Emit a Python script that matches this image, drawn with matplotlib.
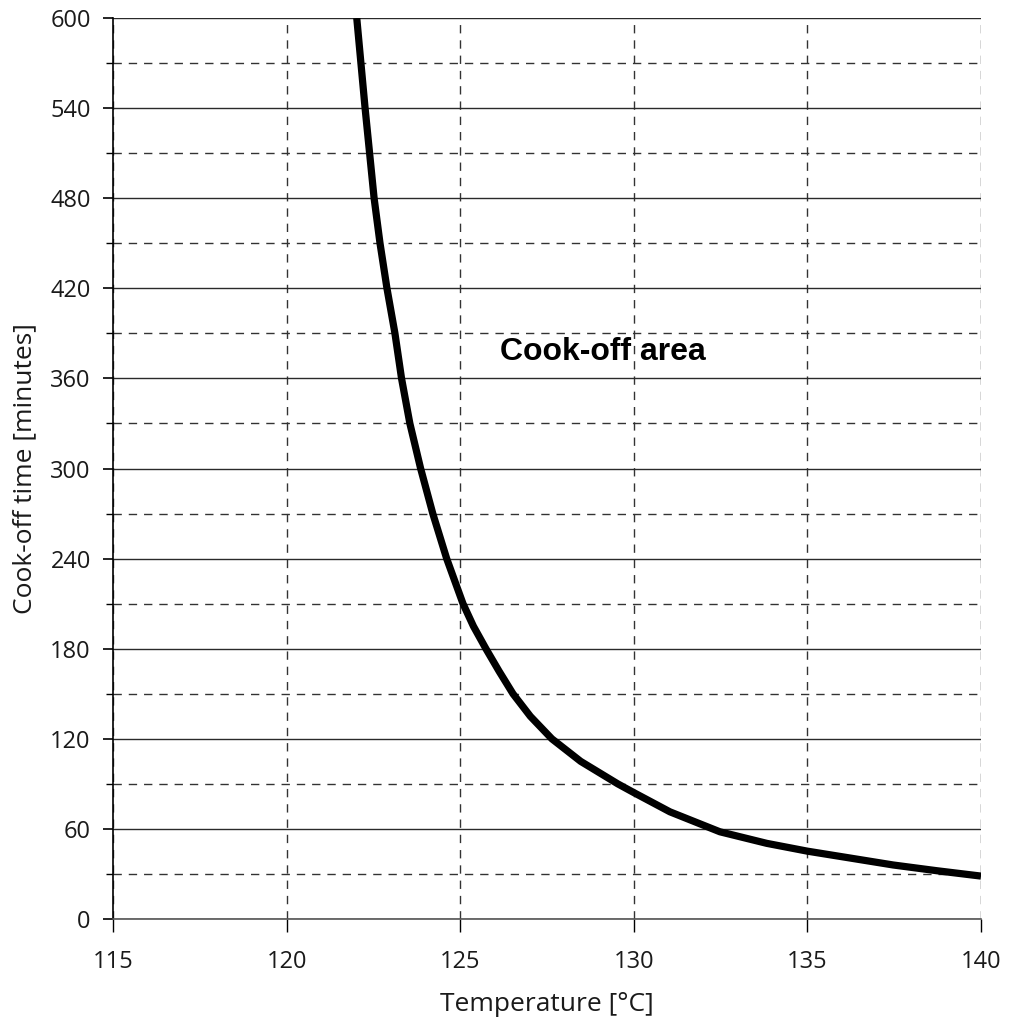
import matplotlib
matplotlib.use("Agg")
import matplotlib.pyplot as plt
from matplotlib.ticker import MultipleLocator

# Data
temperature = [122.02, 122.14, 122.26, 122.39, 122.52, 122.69, 122.89, 123.12, 123.31,
               123.55, 123.86, 124.21, 124.61, 125.08, 125.38, 125.74, 126.12, 126.52,
               127.02, 127.64, 128.47, 129.54, 130.00, 131.04, 132.48, 133.83, 135.0,
               136.13, 137.47, 138.72, 140.0]
cook_off_time = [600, 570, 540, 510, 480, 450, 420, 390, 360,
                 330, 300, 270, 240, 210, 195, 180, 165, 150,
                 135, 120, 105, 90, 84.2, 71.4, 58.1, 50.4, 45.2,
                 41.0, 36.0, 32.2, 28.6]
x_ticks = [115, 120, 125, 130, 135, 140]
y_ticks = [0, 60, 120, 180, 240, 300, 360, 420, 480, 540, 600]
annotation = "Cook-off area"

plt.rcParams['font.family'] = ['Open Sans', 'DejaVu Sans']

fig = plt.figure(figsize=(10.10, 10.24), dpi=100)
ax = fig.add_axes([0.1119, 0.1025, 0.9713 - 0.1119, 0.9824 - 0.1025])

ax.set_xlim(115, 140)
ax.set_ylim(0, 600)
ax.set_xticks(x_ticks)
ax.set_yticks(y_ticks)
ax.yaxis.set_minor_locator(MultipleLocator(30))

# grid
ax.grid(True, which='major', axis='y', color='#2a2a2a', linestyle='-', linewidth=1.0)
ax.grid(True, which='minor', axis='y', color='#333333', linestyle=(0, (6, 5)), linewidth=1.0)
ax.grid(True, which='major', axis='x', color='#333333', linestyle=(0, (6, 5)), linewidth=1.0)
ax.set_axisbelow(True)

for s in ['top', 'right']:
    ax.spines[s].set_visible(False)
ax.spines['left'].set_color('black')
ax.spines['left'].set_linewidth(1.2)
ax.spines['bottom'].set_color('#555555')
ax.spines['bottom'].set_linewidth(1.2)

ax.tick_params(axis='y', which='major', direction='out', length=7, width=1.2,
               labelsize=17, pad=9, colors='black', labelcolor='#1a1a1a')
ax.tick_params(axis='y', which='minor', direction='out', length=5, width=1.0)
ax.tick_params(axis='x', which='major', direction='out', length=9, width=1.0,
               labelsize=17, pad=13, labelcolor='#1a1a1a')

ax.plot(temperature, cook_off_time, color='black', linewidth=5.2,
        solid_capstyle='butt', solid_joinstyle='round', clip_on=True)

ax.text(126.15, 372, annotation, fontsize=23, fontweight='bold',
        family=['Liberation Sans', 'DejaVu Sans'], va='baseline', ha='left', color='black')

ax.set_xlabel('Temperature [°C]', fontsize=19, labelpad=13, color='#1a1a1a')
ax.set_ylabel('Cook-off time [minutes]', fontsize=19, labelpad=9, color='#1a1a1a')

fig.savefig('out.png', dpi=100, facecolor='white')
